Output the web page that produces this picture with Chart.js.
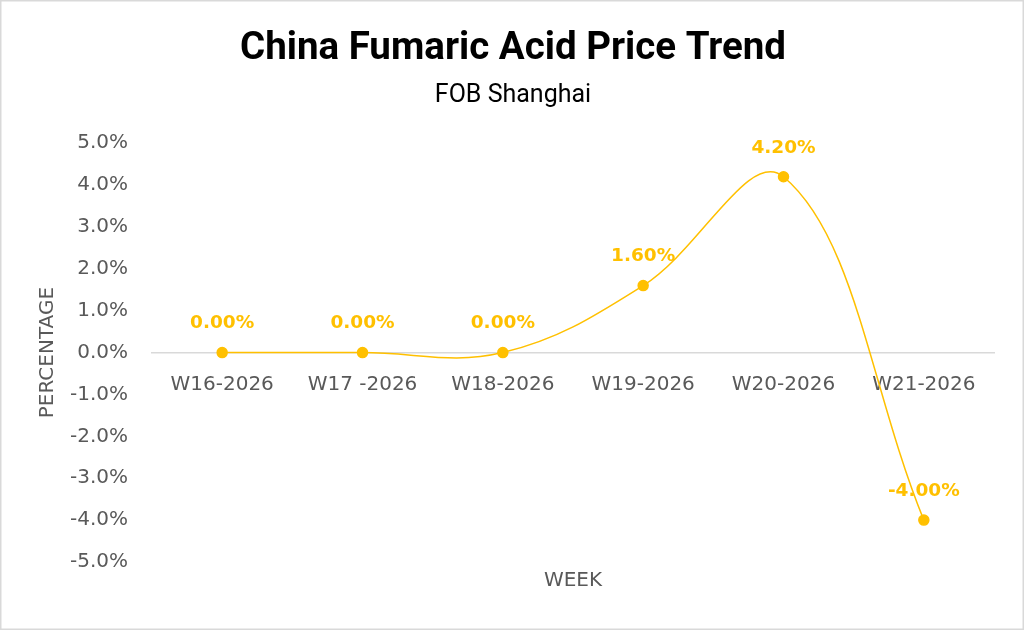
<!DOCTYPE html>
<html>
<head>
<meta charset="utf-8">
<script src="https://cdn.jsdelivr.net/npm/chart.js@4"></script>
<style>
  html, body { margin: 0; padding: 0; background: #fff; }
  #wrap { width: 1024px; height: 630px; }
</style>
</head>
<body>
<div id="wrap"><canvas id="myChart" width="1024" height="630"></canvas></div>
<script>
// chart data
const weeks = ['W16-2026', 'W17 -2026', 'W18-2026', 'W19-2026', 'W20-2026', 'W21-2026'];
const changes = [0.0, 0.0, 0.0, 1.6, 4.2, -4.0];
const yTicks = [5, 4, 3, 2, 1, 0, -1, -2, -3, -4, -5];

const gold = '#FFC000';
const grey = '#595959';
const tickFont = 'DejaVu Sans';

// white background + thin frame round the whole picture
const framePlugin = {
    id: 'frame',
    beforeDraw(chart) {
        const ctx = chart.ctx;
        ctx.save();
        ctx.fillStyle = '#fff';
        ctx.fillRect(0, 0, chart.width, chart.height);
        ctx.strokeStyle = '#D9D9D9';
        ctx.lineWidth = 1.5;
        ctx.strokeRect(0.75, 0.75, chart.width - 1.5, chart.height - 1.5);
        ctx.restore();
    }
};

// value labels above each point
const valueLabels = {
    id: 'valueLabels',
    afterDatasetsDraw(chart) {
        const ctx = chart.ctx;
        const meta = chart.getDatasetMeta(0);
        ctx.save();
        ctx.font = 'bold 18.5px ' + tickFont;
        ctx.fillStyle = gold;
        ctx.textAlign = 'center';
        ctx.textBaseline = 'middle';
        meta.data.forEach((pt, i) => {
            ctx.fillText(changes[i].toFixed(2) + '%', pt.x, pt.y - 29);
        });
        ctx.restore();
    }
};

// "WEEK" under the plot (x axis sits on the zero line)
const weekTitle = {
    id: 'weekTitle',
    afterDraw(chart) {
        const ctx = chart.ctx;
        const area = chart.chartArea;
        ctx.save();
        ctx.font = '20px ' + tickFont;
        ctx.fillStyle = grey;
        ctx.textAlign = 'center';
        ctx.textBaseline = 'middle';
        ctx.fillText('WEEK', (area.left + area.right) / 2, 581);
        ctx.restore();
    }
};

const data = {
    labels: weeks,
    datasets: [{
        label: 'Change',
        data: changes,
        borderColor: gold,
        backgroundColor: gold,
        borderWidth: 1.5,
        pointRadius: 5,
        pointHoverRadius: 5,
        tension: 0.38
    }]
};

const config = {
    type: 'line',
    data: data,
    options: {
        responsive: false,
        animation: false,
        layout: { padding: { top: 0, left: 32, right: 30, bottom: 68 } },
        plugins: {
            legend: { display: false },
            tooltip: { enabled: false },
            title: {
                display: true,
                text: 'China Fumaric Acid Price Trend',
                color: '#000',
                font: { family: 'Roboto', size: 38.5, weight: 'bold' },
                padding: { top: 26, bottom: 9 }
            },
            subtitle: {
                display: true,
                text: 'FOB Shanghai',
                color: '#000',
                font: { family: 'Roboto', size: 25 },
                padding: { top: 0, bottom: 32 }
            }
        },
        scales: {
            x: {
                position: { y: 0 },
                offset: true,
                grid: { display: false, drawTicks: false },
                border: { display: true, color: '#D9D9D9', width: 1.5 },
                ticks: {
                    color: grey,
                    font: { family: tickFont, size: 20 },
                    padding: 20,
                    maxRotation: 0,
                    autoSkip: false
                }
            },
            y: {
                min: -5,
                max: 5,
                afterBuildTicks(axis) {
                    axis.ticks = yTicks.map(v => ({ value: v }));
                },
                afterFit(axis) {
                    axis.width = 120;
                },
                grid: { display: false, drawTicks: false },
                border: { display: false },
                ticks: {
                    color: grey,
                    font: { family: tickFont, size: 20 },
                    padding: 24,
                    callback: v => v.toFixed(1) + '%'
                },
                title: {
                    display: true,
                    text: 'PERCENTAGE',
                    color: grey,
                    font: { family: tickFont, size: 20 },
                    padding: { top: 4, bottom: 4 }
                }
            }
        }
    },
    plugins: [framePlugin, valueLabels, weekTitle]
};

// eslint-disable-next-line
const myChart = new Chart(document.getElementById('myChart'), config);
</script>
</body>
</html>
